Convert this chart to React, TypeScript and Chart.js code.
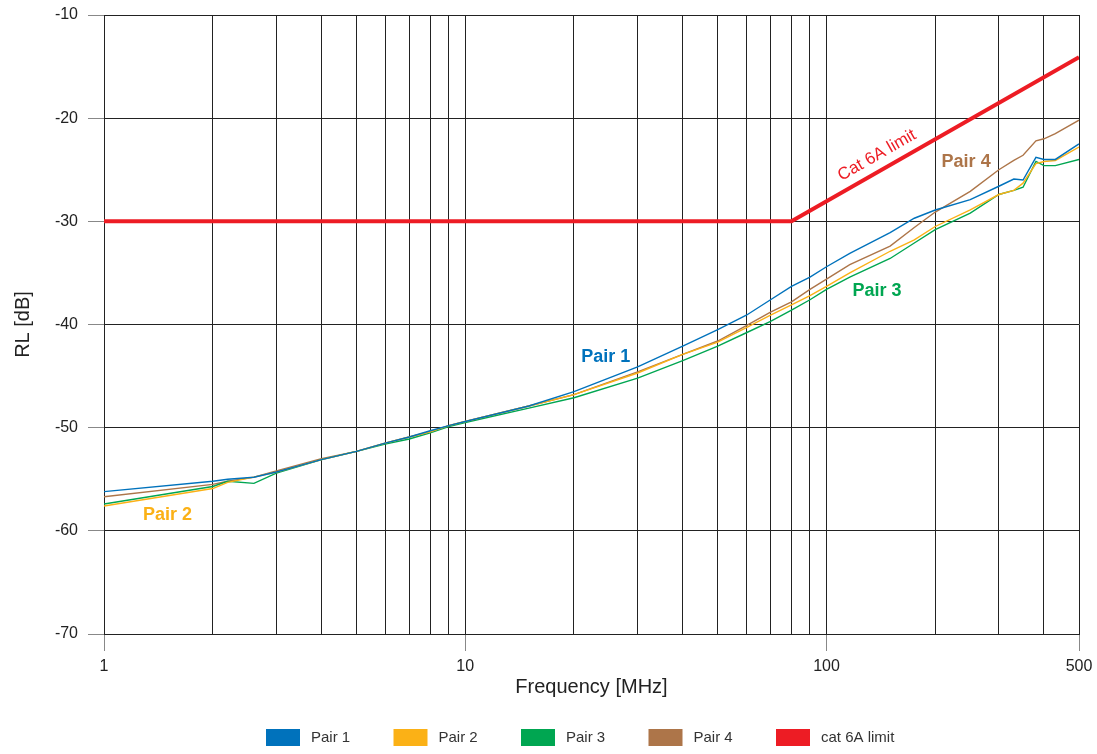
import React, { useEffect, useRef } from 'react';
import { Chart, registerables } from 'chart.js';

Chart.register(...registerables);

// ---- data ----
const frequencies = [1, 2, 2.2, 2.6, 3, 4, 5, 6, 7, 8, 9, 10, 15, 20, 30, 40, 50, 60, 70, 80, 90, 100, 116, 150, 175, 200, 250, 300, 330, 350, 380, 400, 430, 500];
const pair1 = [-56.2, -55.2, -55.0, -54.8, -54.3, -53.1, -52.3, -51.5, -50.9, -50.3, -49.8, -49.4, -47.9, -46.5, -44.1, -42.1, -40.5, -39.1, -37.6, -36.3, -35.4, -34.4, -33.1, -31.1, -29.7, -28.9, -27.9, -26.6, -25.9, -26.0, -23.8, -24.0, -24.0, -22.5];
const pair2 = [-57.6, -55.9, -55.3, -54.8, -54.3, -53.1, -52.3, -51.5, -50.9, -50.4, -49.8, -49.4, -47.9, -46.8, -44.7, -42.9, -41.7, -40.3, -39.1, -38.1, -37.2, -36.3, -35.0, -32.9, -31.8, -30.5, -28.9, -27.4, -27.0, -26.3, -24.4, -24.2, -24.1, -22.8];
const pair3 = [-57.4, -55.7, -55.2, -55.4, -54.4, -53.1, -52.3, -51.6, -51.1, -50.5, -49.9, -49.5, -48.1, -47.1, -45.2, -43.5, -42.1, -40.8, -39.7, -38.6, -37.6, -36.6, -35.4, -33.6, -32.1, -30.8, -29.2, -27.4, -27.0, -26.7, -24.2, -24.6, -24.6, -24.0];
const pair4 = [-56.7, -55.5, -55.2, -54.8, -54.2, -53.0, -52.3, -51.5, -50.9, -50.4, -49.8, -49.4, -47.9, -46.8, -44.6, -42.9, -41.6, -40.1, -38.8, -37.8, -36.6, -35.6, -34.2, -32.4, -30.6, -29.1, -27.1, -25.0, -24.1, -23.6, -22.2, -22.0, -21.5, -20.2];
const limitFrequencies = [1, 80, 500];
const limitValues = [-30, -30, -14.1];

const seriesNames = ['Pair 1', 'Pair 2', 'Pair 3', 'Pair 4', 'cat 6A limit'];
const xGridValues = [1, 2, 3, 4, 5, 6, 7, 8, 9, 10, 20, 30, 40, 50, 60, 70, 80, 90, 100, 200, 300, 400, 500];
const xLabelValues = [1, 10, 100, 500];
const yTickValues = [-70, -60, -50, -40, -30, -20, -10];

const COLORS = ['#0072BC', '#FBB116', '#00A651', '#AD7549', '#ED1C24'];
const FONT = '"Liberation Sans", Arial, Helvetica, sans-serif';

// in-plot annotations (data coordinates)
const annotations = [
  { text: 'Pair 1', f: 24.5, v: -43.2, color: COLORS[0] },
  { text: 'Pair 2', f: 1.5, v: -58.5, color: COLORS[1] },
  { text: 'Pair 3', f: 138, v: -36.8, color: COLORS[2] },
  { text: 'Pair 4', f: 243.5, v: -24.3, color: COLORS[3] },
];

const toPoints = (xs: number[], ys: number[]) => xs.map((x, i) => ({ x, y: ys[i] }));

const overlayPlugin = {
  id: 'overlay',
  afterDatasetsDraw(chart: any) {
    const { ctx } = chart;
    const xs = chart.scales.x;
    const ys = chart.scales.y;
    ctx.save();
    ctx.textAlign = 'center';
    ctx.textBaseline = 'middle';
    ctx.font = `bold 18px ${FONT}`;
    annotations.forEach((a) => {
      ctx.fillStyle = a.color;
      ctx.fillText(a.text, xs.getPixelForValue(a.f), ys.getPixelForValue(a.v));
    });
    // limit label, rotated along the rising limit segment
    const x1 = xs.getPixelForValue(limitFrequencies[1]);
    const y1 = ys.getPixelForValue(limitValues[1]);
    const x2 = xs.getPixelForValue(limitFrequencies[2]);
    const y2 = ys.getPixelForValue(limitValues[2]);
    const ang = Math.atan2(y2 - y1, x2 - x1);
    ctx.translate(xs.getPixelForValue(138), ys.getPixelForValue(-23.6));
    ctx.rotate(ang);
    ctx.font = `17px ${FONT}`;
    ctx.fillStyle = COLORS[4];
    ctx.fillText('Cat 6A limit', 0, 0);
    ctx.restore();
  },
  afterDraw(chart: any) {
    const { ctx } = chart;
    ctx.save();
    ctx.font = `15px ${FONT}`;
    ctx.textBaseline = 'middle';
    ctx.textAlign = 'left';
    const startX = 266;
    const step = 127.5;
    const boxTop = 729;
    seriesNames.forEach((name, i) => {
      const bx = startX + i * step;
      ctx.fillStyle = COLORS[i];
      ctx.fillRect(bx, boxTop, 34, 17);
      ctx.fillStyle = '#333';
      ctx.fillText(name, bx + 45, boxTop + 9);
    });
    ctx.restore();
  },
};

export default function App() {
  const ref = useRef<HTMLCanvasElement | null>(null);
  useEffect(() => {
    if (!ref.current) return;
    const pairSeries = [pair1, pair2, pair3, pair4];
    const datasets: any[] = pairSeries.map((s, i) => ({
      label: seriesNames[i],
      data: toPoints(frequencies, s),
      borderColor: COLORS[i],
      backgroundColor: COLORS[i],
      borderWidth: 1.4,
      pointRadius: 0,
      tension: 0,
      order: 2,
    }));
    datasets.push({
      label: seriesNames[4],
      data: toPoints(limitFrequencies, limitValues),
      borderColor: COLORS[4],
      backgroundColor: COLORS[4],
      borderWidth: 4,
      pointRadius: 0,
      tension: 0,
      order: 1,
    });
    const chart = new Chart(ref.current, {
      type: 'line',
      data: { datasets },
      plugins: [overlayPlugin],
      options: {
        animation: false,
        responsive: true,
        maintainAspectRatio: false,
        layout: { padding: { left: 0, top: 15, right: 18, bottom: 55 } },
        plugins: { legend: { display: false }, tooltip: { enabled: false } },
        scales: {
          x: {
            type: 'logarithmic',
            min: 1,
            max: 500,
            afterBuildTicks: (scale: any) => {
              scale.ticks = xGridValues.map((v) => ({ value: v }));
            },
            afterFit: (scale: any) => {
              scale.height = 65;
              scale.paddingLeft = 0;
              scale.paddingRight = 0;
            },
            ticks: {
              autoSkip: false,
              maxRotation: 0,
              padding: 6,
              color: '#222',
              font: { family: FONT, size: 16 },
              callback: (value: any) => (xLabelValues.includes(Number(value)) ? String(value) : ''),
            },
            grid: {
              color: '#222',
              lineWidth: 1,
              tickLength: 17,
              tickColor: (c: any) => (c.tick && xLabelValues.includes(c.tick.value) ? '#888' : 'rgba(0,0,0,0)'),
            },
            border: { display: true, color: '#222', width: 1 },
            title: {
              display: true,
              text: 'Frequency [MHz]',
              color: '#222',
              font: { family: FONT, size: 20 },
              padding: 0,
            },
          },
          y: {
            type: 'linear',
            min: -70,
            max: -10,
            afterBuildTicks: (scale: any) => {
              scale.ticks = yTickValues.map((v) => ({ value: v }));
            },
            afterFit: (scale: any) => {
              scale.width = 104;
              scale.paddingTop = 0;
              scale.paddingBottom = 0;
            },
            ticks: {
              padding: 10,
              color: '#222',
              font: { family: FONT, size: 16 },
            },
            grid: { color: '#222', lineWidth: 1, tickLength: 16, tickColor: '#888' },
            border: { display: true, color: '#222', width: 1 },
            title: {
              display: true,
              text: 'RL [dB]',
              color: '#222',
              font: { family: FONT, size: 20 },
              padding: { top: 11, bottom: 0 },
            },
          },
        },
      },
    });
    return () => chart.destroy();
  }, []);
  return (
    <div style={{ position: 'fixed', left: 0, top: 0, width: 1097, height: 754, background: '#fff' }}>
      <canvas ref={ref} />
    </div>
  );
}
